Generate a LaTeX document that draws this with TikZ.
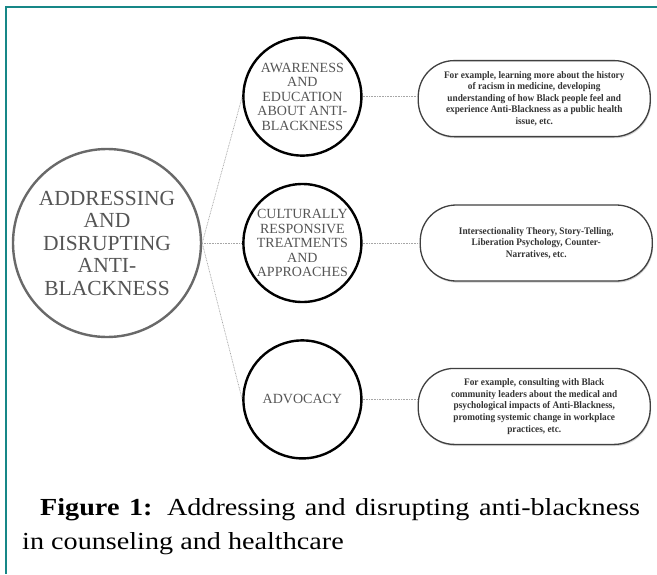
\documentclass[tikz,border=0pt]{standalone}
\usepackage{fontspec}
\setmainfont{Liberation Serif}
\newfontfamily\narrowserif[FakeStretch=0.93]{Liberation Serif}
\newfontfamily\captionserif[FakeStretch=1.15]{Liberation Serif}
\usetikzlibrary{positioning,shadows}
\definecolor{frameteal}{RGB}{22,135,135}
\definecolor{hubgray}{RGB}{105,105,105}
\definecolor{txtgray}{RGB}{85,85,85}

\begin{document}
\begin{tikzpicture}[
  x=1pt, y=-1pt,
  hub/.style={draw=hubgray, line width=2.4pt, circle, minimum size=188pt, inner sep=0pt,
              align=center, text=txtgray, font=\fontsize{21.5}{22.5}\selectfont},
  topic/.style={draw=black, line width=2.4pt, circle, minimum size=118pt, inner sep=0pt,
                align=center, text=txtgray, font=\fontsize{14}{14.5}\selectfont},
  example/.style={draw=black!75, line width=1.3pt, rounded corners=36pt, minimum width=232pt,
                  minimum height=76pt, align=center, text=black!80, fill=white,
                  drop shadow={shadow xshift=0.8pt, shadow yshift=-1.6pt, opacity=0.35},
                  font=\narrowserif\bfseries\fontsize{10}{11.6}\selectfont},
  link/.style={draw=gray!70, line width=0.7pt, dash pattern=on 0.8pt off 0.8pt}
]
\useasboundingbox (0,0) rectangle (657,574);
% Frame
\draw[frameteal, line width=2.6pt] (657,7) -- (6,7) -- (6,574);

% Central circle
\node[hub] (hub) at (107,243)
  {ADDRESSING\\AND\\DISRUPTING\\ANTI-\\BLACKNESS};

% Topic circles
\node[topic, right=40pt of hub] (culture)
  {CULTURALLY\\RESPONSIVE\\TREATMENTS\\AND\\APPROACHES};
\node[topic, above=26pt of culture] (aware)
  {AWARENESS\\AND\\EDUCATION\\ABOUT ANTI-\\BLACKNESS};
\node[topic, below=36pt of culture] (advocacy) {ADVOCACY};

% Example boxes
\node[example, right=55pt of aware, yshift=-2pt] (awareex)
  {For example, learning more about the history\\of racism in medicine, developing\\understanding of how Black people feel and\\experience Anti-Blackness as a public health\\issue, etc.};
\node[example, right=57pt of culture] (cultureex)
  {Intersectionality Theory, Story-Telling,\\Liberation Psychology, Counter-\\Narratives, etc.};
\node[example, right=55pt of advocacy, yshift=-7pt] (advocacyex)
  {For example, consulting with Black\\community leaders about the medical and\\psychological impacts of Anti-Blackness,\\promoting systemic change in workplace\\practices, etc.};

% Links
\draw[link] (hub.east) -- (aware.west);
\draw[link] (hub.east) -- (culture.west);
\draw[link] (hub.east) -- (advocacy.west);
\draw[link] (aware.east) -- (aware.east -| awareex.west);
\draw[link] (culture) -- (cultureex);
\draw[link] (advocacy.east) -- (advocacy.east -| advocacyex.west);

% Caption
\node[anchor=base west, text width=618pt, align=justify, inner sep=0pt,
      font=\captionserif\fontsize{24.5}{34}\selectfont] (caption) at (22,515)
  {\hspace*{18pt}\textbf{Figure 1:} Addressing and disrupting anti-blackness\linebreak in counseling and healthcare};
\end{tikzpicture}
\end{document}
